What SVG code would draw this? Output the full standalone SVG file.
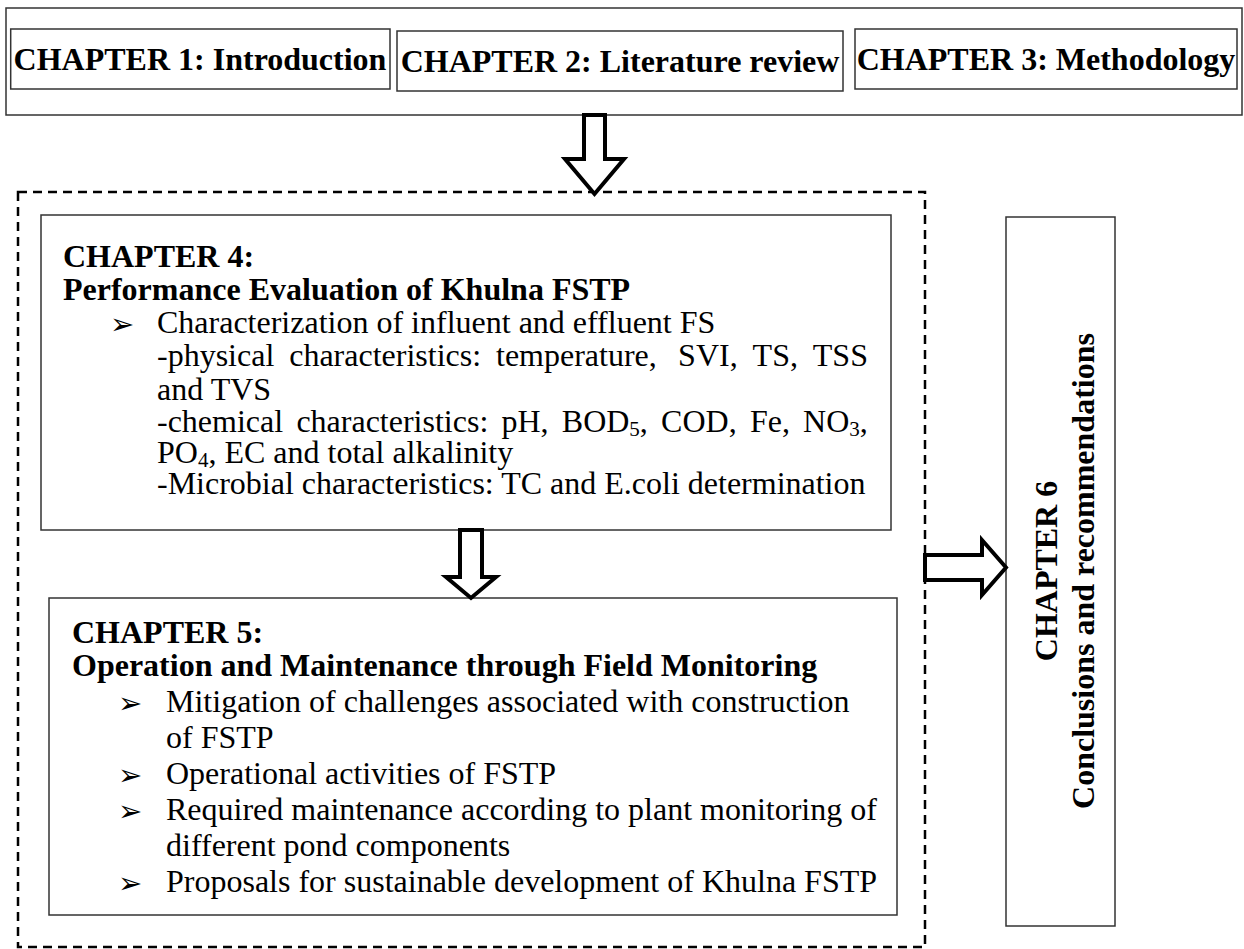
<svg xmlns="http://www.w3.org/2000/svg" width="1244" height="949" viewBox="0 0 1244 949">
<style>
.box{fill:#fff;stroke:#333;stroke-width:1.5}
.dash{fill:none;stroke:#000;stroke-width:2.5;stroke-dasharray:9 6}
.arrow{fill:#fff;stroke:#000;stroke-width:4;stroke-linejoin:miter}
.h{font-family:"Liberation Serif","Times New Roman",serif;font-weight:bold;font-size:32px;fill:#000}
.t{font-family:"Liberation Serif","Times New Roman",serif;font-size:32px;fill:#000}
.b{font-family:"DejaVu Sans",sans-serif;font-size:29px;fill:#000}
.sub{font-size:21px}
</style>
<rect x="0" y="0" width="1244" height="949" fill="#fff"/>
<g id="intro-group">
<rect class="box" x="6" y="8" width="1236" height="107"/>
</g>
<g id="ch1">
<rect class="box" x="10.7" y="29" width="379.3" height="60"/>
<text class="h" x="200" y="70" text-anchor="middle">CHAPTER 1: Introduction</text>
</g>
<g id="ch2">
<rect class="box" x="397" y="31" width="446" height="60"/>
<text class="h" x="620" y="72" text-anchor="middle">CHAPTER 2: Literature review</text>
</g>
<g id="ch3">
<rect class="box" x="855" y="29" width="382" height="60"/>
<text class="h" x="1046" y="70" text-anchor="middle">CHAPTER 3: Methodology</text>
</g>
<g id="analysis-group">
<rect class="dash" x="18" y="192" width="907" height="755"/>
</g>
<g id="ch4">
<rect class="box" x="41" y="215" width="850" height="315"/>
<text class="h" x="63" y="267">CHAPTER 4:</text>
<text class="h" x="63" y="300">Performance Evaluation of Khulna FSTP</text>
<text class="b" x="110" y="334">➢</text>
<text class="t" x="157" y="333">Characterization of influent and effluent FS</text>
<text class="t" y="366"><tspan x="157">-physical</tspan><tspan x="289.2">characteristics:</tspan><tspan x="496">temperature,</tspan><tspan x="678.1">SVI,</tspan><tspan x="752.6">TS,</tspan><tspan x="812.8">TSS</tspan></text>
<text class="t" x="157" y="400">and TVS</text>
<text class="t" y="432"><tspan x="157">-chemical</tspan><tspan x="296.4">characteristics:</tspan><tspan x="501.5">pH,</tspan><tspan x="561.8">BOD</tspan><tspan class="sub" dy="4">5</tspan><tspan dy="-4">,</tspan><tspan x="661.1">COD,</tspan><tspan x="749.9">Fe,</tspan><tspan x="803.1">NO</tspan><tspan class="sub" dy="4">3</tspan><tspan dy="-4">,</tspan></text>
<text class="t" x="157" y="463">PO<tspan class="sub" dy="4">4</tspan><tspan dy="-4">, EC and total alkalinity</tspan></text>
<text class="t" x="157" y="494">-Microbial characteristics: TC and E.coli determination</text>
</g>
<g id="ch5">
<rect class="box" x="49" y="598" width="848" height="317"/>
<text class="h" x="72" y="643">CHAPTER 5:</text>
<text class="h" x="72" y="676">Operation and Maintenance through Field Monitoring</text>
<text class="b" x="118" y="713">➢</text>
<text class="t" x="166" y="712">Mitigation of challenges associated with construction</text>
<text class="t" x="166" y="748">of FSTP</text>
<text class="b" x="118" y="785">➢</text>
<text class="t" x="166" y="784">Operational activities of FSTP</text>
<text class="b" x="118" y="821">➢</text>
<text class="t" x="166" y="820">Required maintenance according to plant monitoring of</text>
<text class="t" x="166" y="856">different pond components</text>
<text class="b" x="118" y="893">➢</text>
<text class="t" x="166" y="892">Proposals for sustainable development of Khulna FSTP</text>
</g>
<g id="ch6">
<rect class="box" x="1006" y="217" width="109" height="709"/>
<text class="h" transform="translate(1057,571) rotate(-90)" text-anchor="middle">CHAPTER 6</text>
<text class="h" transform="translate(1094,571) rotate(-90)" text-anchor="middle">Conclusions and recommendations</text>
</g>
<g id="connectors">
<polygon class="arrow" points="584,115 605,115 605,159 624,159 594.5,194 565,159 584,159"/>
<polygon class="arrow" points="460,530 482,530 482,577 496,577 471,598 446,577 460,577"/>
<polygon class="arrow" points="925,555 982,555 982,540 1006,567.5 982,595 982,580 925,580"/>
</g>
</svg>
